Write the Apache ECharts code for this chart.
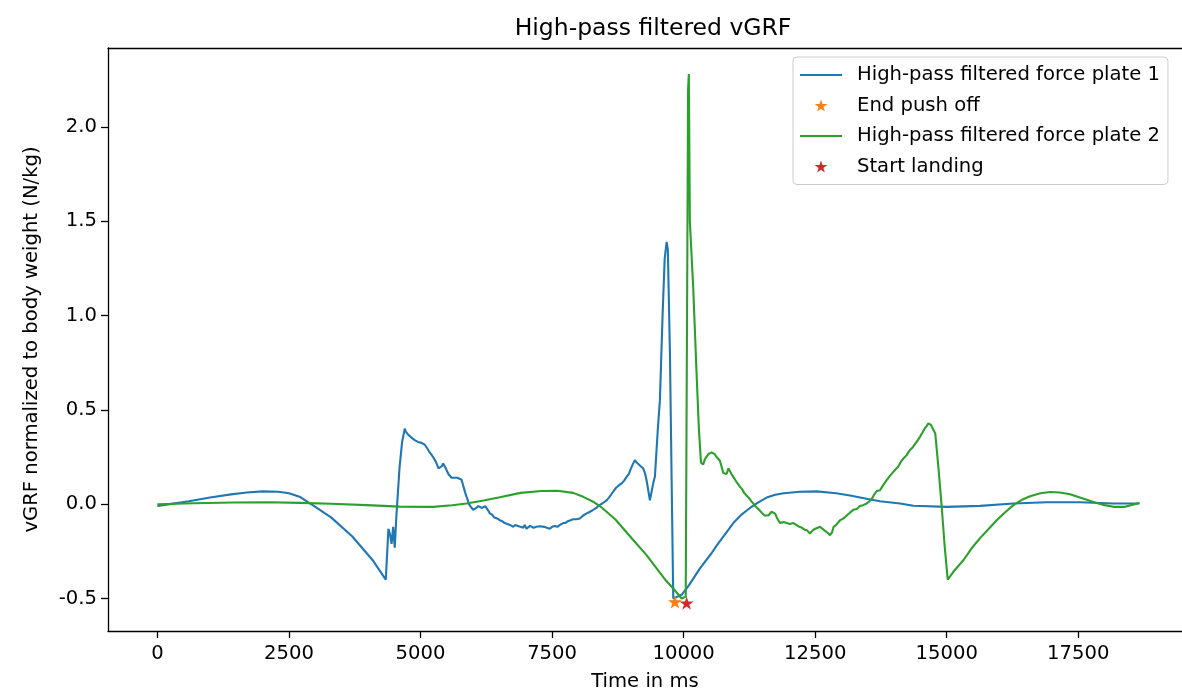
<!DOCTYPE html>
<html>
<head>
<meta charset="utf-8">
<title>High-pass filtered vGRF</title>
<script src="https://cdn.jsdelivr.net/npm/echarts@6/dist/echarts.min.js"></script>
<style>
  html, body { margin: 0; padding: 0; background: #fff; }
  #chart { width: 1182px; height: 689px; }
</style>
</head>
<body>
<div id="chart"></div>
<script>
// Force plate 1, high-pass filtered (time in ms, vGRF in N/kg)
const plate1Time = [
  0, 300, 600, 1000, 1400, 1700, 2000, 2300, 2500, 2700, 2950, 3300, 3700, 4100, 4340,
  4390, 4420, 4450, 4480, 4510, 4540, 4600, 4650, 4700, 4720, 4740, 4760, 4780, 4800, 4820,
  4840, 4860, 4890, 4920, 4950, 4980, 5020, 5050, 5080, 5100, 5130, 5160, 5200, 5240, 5270,
  5300, 5320, 5340, 5370, 5400, 5430, 5462, 5480, 5500, 5530, 5560, 5590, 5620, 5660, 5700,
  5740, 5779, 5800, 5830, 5850, 5874, 5900, 5920, 5960, 6000, 6030, 6060, 6100, 6130, 6170,
  6200, 6230, 6254, 6290, 6320, 6360, 6400, 6450, 6507, 6550, 6600, 6650, 6700, 6730, 6761,
  6800, 6850, 6900, 6950, 6980, 7015, 7050, 7080, 7110, 7150, 7200, 7268, 7300, 7350, 7400,
  7458, 7500, 7550, 7600, 7650, 7680, 7711, 7750, 7800, 7850, 7900, 7960, 8028, 8090, 8150,
  8220, 8282, 8340, 8400, 8460, 8536, 8580, 8620, 8670, 8726, 8770, 8820, 8870, 8916, 8960,
  9000, 9040, 9074, 9110, 9150, 9190, 9232, 9270, 9300, 9330, 9359, 9380, 9400, 9430, 9454,
  9510, 9549, 9600, 9640, 9677, 9700, 9740, 9772, 9803, 9962, 10100, 10310, 10530, 10627, 10800,
  10944, 11100, 11261, 11420, 11578, 11740, 11900, 12211, 12528, 12900, 13162, 13500, 13732, 14112, 14366,
  15000, 15633, 16267, 16901, 17534, 18167, 18662
];
const plate1Value = [
  -0.01, 0.003, 0.016, 0.035, 0.052, 0.062, 0.068, 0.066, 0.058, 0.04, -0.005, -0.07, -0.17, -0.30, -0.40,
  -0.13, -0.16, -0.21, -0.12, -0.23, -0.07, 0.19, 0.33, 0.40, 0.385, 0.39, 0.37, 0.375, 0.36, 0.365,
  0.35, 0.355, 0.34, 0.345, 0.33, 0.335, 0.325, 0.33, 0.315, 0.31, 0.295, 0.28, 0.265, 0.25, 0.24,
  0.22, 0.205, 0.19, 0.2, 0.2, 0.215, 0.21, 0.19, 0.18, 0.16, 0.15, 0.14, 0.13, 0.14, 0.14,
  0.135, 0.13, 0.11, 0.08, 0.06, 0.04, 0.02, 0.0, -0.015, -0.03, -0.025, -0.02, -0.01, -0.01, -0.02,
  -0.015, -0.01, -0.02, -0.035, -0.05, -0.055, -0.07, -0.075, -0.085, -0.09, -0.10, -0.105, -0.11, -0.105, -0.12,
  -0.11, -0.115, -0.12, -0.125, -0.11, -0.13, -0.12, -0.115, -0.125, -0.125, -0.12, -0.117, -0.125, -0.12, -0.125,
  -0.13, -0.12, -0.115, -0.12, -0.11, -0.105, -0.10, -0.1, -0.09, -0.085, -0.08, -0.08, -0.076, -0.06, -0.05,
  -0.04, -0.03, -0.02, -0.005, 0.005, 0.02, 0.035, 0.05, 0.07, 0.09, 0.1, 0.11, 0.125, 0.145, 0.16,
  0.19, 0.215, 0.233, 0.22, 0.21, 0.2, 0.19, 0.16, 0.12, 0.07, 0.02, 0.05, 0.08, 0.12, 0.145,
  0.40, 0.55, 1.0, 1.3, 1.39, 1.35, 0.8, 0.13, -0.50, -0.48, -0.43, -0.34, -0.26, -0.22, -0.155,
  -0.10, -0.055, -0.02, 0.01, 0.035, 0.05, 0.058, 0.066, 0.068, 0.058, 0.046, 0.028, 0.016, 0.004, -0.008,
  -0.014, -0.009, 0.004, 0.01, 0.01, 0.004, 0.004
];

// Force plate 2, high-pass filtered
const plate2Time = [
  0, 700, 1437, 2100, 2705, 3300, 3973, 4606, 5240, 5600, 5874, 6200,
  6507, 6900, 7300, 7600, 7900, 8092, 8300, 8409, 8700, 9042, 9296, 9486,
  9650, 9803, 9962, 10040, 10085, 10099, 10118, 10182, 10245, 10290, 10330, 10373,
  10400, 10430, 10470, 10500, 10530, 10560, 10590, 10627, 10660, 10690, 10720, 10754, 10790, 10817, 10850,
  10880, 10910, 10944, 10970, 11000, 11040, 11070, 11110, 11150, 11200, 11250, 11290, 11324, 11360, 11400,
  11450, 11500, 11540, 11578, 11610, 11640, 11670, 11705, 11740, 11770, 11800, 11832, 11870, 11900, 11930,
  11960, 12020, 12085, 12140, 12200, 12250, 12300, 12350, 12401, 12450, 12500, 12550, 12591, 12640, 12680,
  12730, 12781, 12820, 12850, 12900, 12972, 13040, 13100, 13160, 13225, 13290, 13350, 13410, 13479, 13530,
  13580, 13620, 13669, 13700, 13732, 13790, 13859, 13920, 13985, 14030, 14080, 14130, 14175, 14210, 14240,
  14270, 14302, 14350, 14400, 14450, 14492, 14540, 14580, 14620, 14651, 14700, 14782, 14841, 14905, 14960,
  15019, 15150, 15316, 15470, 15633, 15800, 15950, 16100, 16267, 16420, 16584, 16780, 16964, 17150, 17344,
  17560, 17788, 18000, 18167, 18390, 18662
];
const plate2Value = [
  0.0, 0.005, 0.009, 0.01, 0.007, 0.002, -0.005, -0.013, -0.014, -0.006, 0.004, 0.02,
  0.037, 0.06, 0.07, 0.071, 0.06, 0.039, 0.01, -0.01, -0.08, -0.19, -0.27, -0.34,
  -0.40, -0.447, -0.50, -0.49, 2.20, 2.28, 1.50, 1.15, 0.70, 0.40, 0.22, 0.21,
  0.235, 0.25, 0.265, 0.27, 0.275, 0.28, 0.265, 0.25, 0.24, 0.23, 0.2, 0.165, 0.17, 0.16, 0.19,
  0.18, 0.16, 0.145, 0.135, 0.12, 0.105, 0.092, 0.08, 0.06, 0.045, 0.03, 0.015, 0.004, -0.01, -0.02,
  -0.035, -0.05, -0.06, -0.067, -0.06, -0.05, -0.04, -0.03, -0.05, -0.07, -0.085, -0.10, -0.09, -0.095, -0.1,
  -0.10, -0.105, -0.10, -0.11, -0.12, -0.125, -0.135, -0.14, -0.155, -0.14, -0.13, -0.125, -0.12, -0.13, -0.14,
  -0.15, -0.164, -0.15, -0.12, -0.11, -0.085, -0.075, -0.06, -0.045, -0.03, -0.025, -0.01, -0.005, 0.004, 0.015,
  0.03, 0.05, 0.07, 0.068, 0.074, 0.1, 0.127, 0.15, 0.171, 0.185, 0.20, 0.225, 0.242, 0.25, 0.26,
  0.275, 0.287, 0.3, 0.32, 0.34, 0.357, 0.38, 0.40, 0.415, 0.428, 0.42, 0.375, 0.198, -0.014, -0.22,
  -0.40, -0.35, -0.297, -0.235, -0.18, -0.13, -0.085, -0.045, -0.005, 0.022, 0.042, 0.058, 0.065, 0.062, 0.053,
  0.033, 0.012, -0.005, -0.014, -0.014, 0.007
];

// Detected events
const endPushOff = [[9835, -0.518]];
const startLanding = [[10057, -0.524]];

// Tick positions
const xTicks = [0, 2500, 5000, 7500, 10000, 12500, 15000, 17500];
const yTicks = [-0.5, 0.0, 0.5, 1.0, 1.5, 2.0];

const FONT = 'DejaVu Sans';
const STAR = 'path://M0,-1 L0.2245,-0.309 L0.951,-0.309 L0.363,0.118 L0.588,0.809 L0,0.382 L-0.588,0.809 L-0.363,0.118 L-0.951,-0.309 L-0.2245,-0.309 Z';
// Thin bar used as the legend key of the line series
const LINE_KEY = 'path://M0,0 L42,0 L42,2 L0,2 Z';

const zip = (xs, ys) => xs.map((x, i) => [x, ys[i]]);

const X_MIN = -939;
const X_MAX = 19471;
const Y_MIN = -0.672;
const Y_MAX = 2.4175;

const chart = echarts.init(document.getElementById('chart'), null, { renderer: 'canvas' });

chart.setOption({
  animation: false,
  backgroundColor: '#fff',
  title: {
    text: 'High-pass filtered vGRF',
    left: 648,
    top: 12,
    textAlign: 'center',
    textStyle: { fontFamily: FONT, fontSize: 23.5, fontWeight: 'normal', color: '#000' }
  },
  grid: {
    left: 108,
    top: 48,
    right: 0,
    bottom: 58,
    outerBoundsMode: 'none',
    show: false
  },
  xAxis: [
    {
      type: 'value',
      position: 'bottom',
      min: X_MIN,
      max: X_MAX,
      name: 'Time in ms',
      nameLocation: 'middle',
      nameGap: 41,
      nameTextStyle: { fontFamily: FONT, fontSize: 19.6, color: '#000' },
      axisLine: { show: true, onZero: false, lineStyle: { color: '#000', width: 1.3 } },
      splitLine: { show: false },
      axisTick: { show: true, length: 7, lineStyle: { color: '#000', width: 1.3 }, customValues: xTicks },
      axisLabel: {
        fontFamily: FONT, fontSize: 19.6, color: '#000', margin: 13,
        customValues: xTicks,
        formatter: v => String(v)
      }
    },
    {
      // top frame line
      type: 'value',
      position: 'top',
      min: X_MIN,
      max: X_MAX,
      axisLine: { show: true, onZero: false, lineStyle: { color: '#000', width: 1.3 } },
      axisTick: { show: false },
      axisLabel: { show: false },
      splitLine: { show: false }
    }
  ],
  yAxis: {
    type: 'value',
    min: Y_MIN,
    max: Y_MAX,
    name: 'vGRF normalized to body weight (N/kg)',
    nameLocation: 'middle',
    nameGap: 66,
    nameTextStyle: { fontFamily: FONT, fontSize: 19.6, color: '#000' },
    axisLine: { show: true, onZero: false, lineStyle: { color: '#000', width: 1.3 } },
    splitLine: { show: false },
    axisTick: { show: true, length: 7, lineStyle: { color: '#000', width: 1.3 }, customValues: yTicks },
    axisLabel: {
      fontFamily: FONT, fontSize: 19.6, color: '#000', margin: 11,
      customValues: yTicks,
      formatter: v => v.toFixed(1)
    }
  },
  legend: {
    orient: 'vertical',
    left: 793,
    top: 57,
    itemWidth: 42,
    itemHeight: 12,
    itemGap: 10.5,
    padding: [8, 8, 8, 7],
    backgroundColor: 'rgba(255,255,255,0.8)',
    borderColor: '#cccccc',
    borderWidth: 1,
    borderRadius: 4,
    textStyle: { fontFamily: FONT, fontSize: 19.6, lineHeight: 20, color: '#000', padding: [0, 0, 0, 10] },
    data: [
      { name: 'High-pass filtered force plate 1', icon: LINE_KEY },
      { name: 'End push off', icon: STAR },
      { name: 'High-pass filtered force plate 2', icon: LINE_KEY },
      { name: 'Start landing', icon: STAR }
    ]
  },
  series: [
    {
      name: 'High-pass filtered force plate 1',
      type: 'line',
      xAxisIndex: 0,
      data: zip(plate1Time, plate1Value),
      symbol: 'none',
      lineStyle: { color: '#1f77b4', width: 2.1 },
      itemStyle: { color: '#1f77b4' },
      z: 2
    },
    {
      name: 'End push off',
      type: 'scatter',
      xAxisIndex: 0,
      data: endPushOff,
      symbol: STAR,
      symbolSize: 14,
      symbolKeepAspect: true,
      itemStyle: { color: '#ff7f0e', opacity: 1 },
      z: 4
    },
    {
      name: 'High-pass filtered force plate 2',
      type: 'line',
      xAxisIndex: 0,
      data: zip(plate2Time, plate2Value),
      symbol: 'none',
      lineStyle: { color: '#2ca02c', width: 2.1 },
      itemStyle: { color: '#2ca02c' },
      z: 3
    },
    {
      name: 'Start landing',
      type: 'scatter',
      xAxisIndex: 0,
      data: startLanding,
      symbol: STAR,
      symbolSize: 14,
      symbolKeepAspect: true,
      itemStyle: { color: '#d62728', opacity: 1 },
      z: 5
    }
  ]
});
</script>
</body>
</html>
